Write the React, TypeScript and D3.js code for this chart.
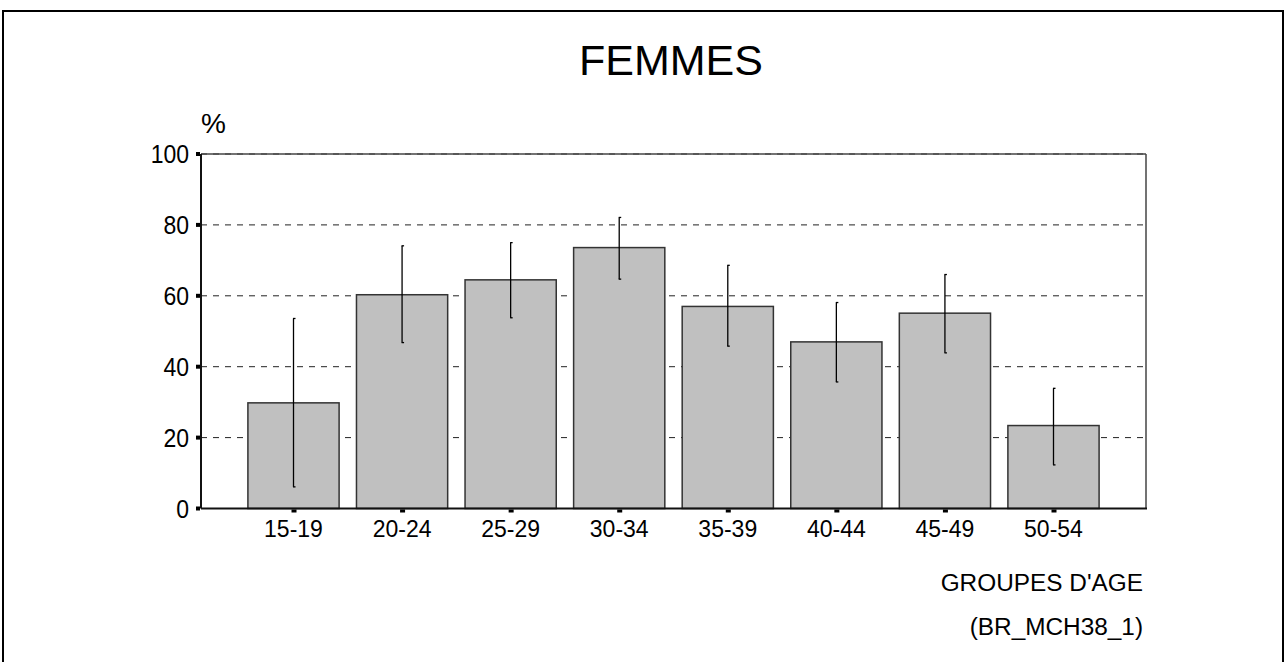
import * as d3 from 'd3'

const categories = ['15-19', '20-24', '25-29', '30-34', '35-39', '40-44', '45-49', '50-54']
const values = [29.8, 60.3, 64.5, 73.6, 57.0, 47.0, 55.1, 23.4]
const lower = [6.1, 46.8, 53.8, 64.7, 45.8, 35.7, 43.9, 12.3]
const upper = [53.6, 74.1, 75.0, 82.1, 68.6, 58.1, 66.0, 33.9]
const yTicks = [0, 20, 40, 60, 80, 100]

const W = 1285
const H = 662
const plot = { left: 201, right: 1146, top: 154, bottom: 508.5 }
const font = 'Arial, "Liberation Sans", Helvetica, sans-serif'

const App = () => {
    const x = d3.scaleBand<string>()
        .domain(categories)
        .range([plot.left, plot.right])
        .paddingInner(0.16)
        .paddingOuter(0.432)

    const y = d3.scaleLinear().domain([0, 100]).range([plot.bottom, plot.top])

    const cx = (c: string) => (x(c) ?? 0) + x.bandwidth() / 2

    return (
        <svg width={W} height={H} style={{ position: 'absolute', left: 0, top: 0, display: 'block' }}
            fontFamily={font}>
            <rect x={0} y={0} width={W} height={H} fill="white" />
            {/* outer frame */}
            <rect x={3} y={11} width={1280} height={700} fill="none" stroke="black" strokeWidth={2} />

            <text x={671} y={75} textAnchor="middle" fontSize={43}>FEMMES</text>
            <text x={201} y={133} fontSize={28}>%</text>

            {/* grid lines */}
            {yTicks.filter(t => t > 0).map(t => (
                <line key={'g' + t} x1={plot.left} x2={plot.right} y1={y(t)} y2={y(t)}
                    stroke="#222" strokeWidth={1} strokeDasharray="6,6" />
            ))}

            {/* plot box */}
            <line x1={plot.left} x2={plot.right} y1={plot.top} y2={plot.top} stroke="#444" strokeWidth={1.5} />
            <line x1={plot.right} x2={plot.right} y1={plot.top} y2={plot.bottom} stroke="#444" strokeWidth={1.5} />

            {/* bars */}
            {categories.map((c, i) => (
                <rect key={'b' + c} x={x(c)} y={y(values[i])} width={x.bandwidth()}
                    height={y(0) - y(values[i])} fill="#c0c0c0" stroke="#333" strokeWidth={1.5} />
            ))}

            {/* error bars */}
            {categories.map((c, i) => (
                <g key={'e' + c} stroke="black">
                    <line x1={cx(c)} x2={cx(c)} y1={y(upper[i])} y2={y(lower[i])} strokeWidth={1.3} />
                    <line x1={cx(c) - 0.5} x2={cx(c) + 2} y1={y(upper[i])} y2={y(upper[i])} strokeWidth={1.3} />
                    <line x1={cx(c) - 0.5} x2={cx(c) + 2} y1={y(lower[i])} y2={y(lower[i])} strokeWidth={1.3} />
                </g>
            ))}

            {/* axes */}
            <line x1={plot.left} x2={plot.left} y1={plot.top} y2={plot.bottom} stroke="#111" strokeWidth={2} />
            <line x1={plot.left} x2={plot.right + 1} y1={plot.bottom} y2={plot.bottom} stroke="#111" strokeWidth={2} />

            {yTicks.map(t => (
                <g key={'y' + t}>
                    <rect x={196} y={y(t) - 2} width={4} height={4} fill="black" />
                    <text transform={`translate(189,${y(t)}) scale(1,1.1)`} dy="0.36em" textAnchor="end" fontSize={23}>{t}</text>
                </g>
            ))}

            {categories.map(c => (
                <g key={'x' + c}>
                    <rect x={cx(c) - 2} y={plot.bottom + 1} width={5} height={3} fill="black" />
                    <text x={cx(c)} y={537} textAnchor="middle" fontSize={23}>{c}</text>
                </g>
            ))}

            <text transform="translate(1143,591) scale(1.06,1)" textAnchor="end" fontSize={23}>GROUPES D'AGE</text>
            <text transform="translate(1143,635) scale(1.06,1)" textAnchor="end" fontSize={23}>(BR_MCH38_1)</text>
        </svg>
    )
}

export default App
